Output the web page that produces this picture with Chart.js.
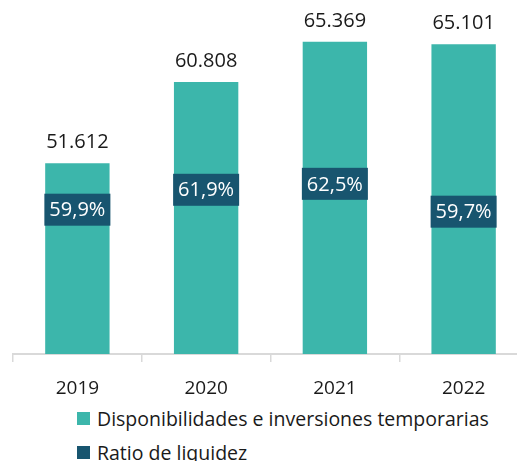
<!DOCTYPE html>
<html>
<head>
<meta charset="utf-8">
<script src="https://cdn.jsdelivr.net/npm/chart.js@4.4.1/dist/chart.umd.min.js"></script>
<style>
  html, body { margin: 0; padding: 0; background: #fff; overflow: hidden; }
  body { width: 517px; height: 461px; position: relative; font-family: 'Open Sans', sans-serif; }
  #wrap { position: absolute; left: 0; top: -40px; width: 540px; height: 440px; }
  #leyenda { position: absolute; left: 77px; top: 401px; color: #1a1a1a; font-size: 19.5px; }
  .item { display: flex; align-items: center; height: 34px; white-space: nowrap; }
  .cuadro { width: 13px; height: 13px; margin-right: 7px; flex: none; }
</style>
</head>
<body>
<div id="wrap"><canvas id="grafico"></canvas></div>
<div id="leyenda"></div>
<script>
// Datos
const anios = ['2019', '2020', '2021', '2022'];
const disponibilidades = [51612, 60808, 65369, 65101];
const ratioLiquidez = [59.9, 61.9, 62.5, 59.7];

const colorTeal = '#3cb6ab';
const colorAzul = '#18556f';

function miles(v) {
    return String(v).replace(/\B(?=(\d{3})+(?!\d))/g, '.');
}

// Etiquetas de valores (barras arriba, ratio en caja)
const etiquetas = {
    id: 'etiquetas',
    afterDatasetsDraw(chart) {
        const ctx = chart.ctx;
        ctx.save();
        ctx.textAlign = 'center';
        ctx.textBaseline = 'middle';

        chart.getDatasetMeta(0).data.forEach((bar, i) => {
            ctx.font = '20px "Open Sans"';
            ctx.fillStyle = '#1a1a1a';
            ctx.fillText(miles(disponibilidades[i]), bar.x, bar.y - 21);
        });

        chart.getDatasetMeta(1).data.forEach((pt, i) => {
            const txt = ratioLiquidez[i].toFixed(1).replace('.', ',') + '%';
            ctx.font = '20px "Open Sans"';
            const w = ctx.measureText(txt).width + 10;
            ctx.fillStyle = colorAzul;
            ctx.fillRect(pt.x - w / 2, pt.y - 16, w, 32);
            ctx.fillStyle = '#ffffff';
            ctx.fillText(txt, pt.x, pt.y + 1);
        });
        ctx.restore();
    }
};

new Chart(document.getElementById('grafico'), {
    type: 'bar',
    data: {
        labels: anios,
        datasets: [{
            label: 'Disponibilidades e inversiones temporarias',
            data: disponibilidades,
            backgroundColor: colorTeal,
            categoryPercentage: 1,
            barPercentage: 0.5,
            yAxisID: 'y',
            order: 2
        }, {
            type: 'line',
            label: 'Ratio de liquidez',
            data: ratioLiquidez,
            showLine: false,
            pointRadius: 0,
            borderColor: colorAzul,
            backgroundColor: colorAzul,
            yAxisID: 'y2',
            order: 1
        }]
    },
    options: {
        responsive: true,
        maintainAspectRatio: false,
        animation: false,
        layout: { padding: { left: 13, right: 12, top: 41, bottom: 0 } },
        plugins: {
            legend: { display: false },
            tooltip: { enabled: false }
        },
        scales: {
            x: {
                grid: {
                    offset: true,
                    drawOnChartArea: false,
                    drawTicks: true,
                    tickLength: 8,
                    color: '#d9d9d9',
                    lineWidth: 1.5
                },
                border: { color: '#d9d9d9', width: 2 },
                ticks: {
                    color: '#1a1a1a',
                    font: { family: 'Open Sans', size: 19 },
                    padding: 15
                },
                afterFit(scale) { scale.height = 46; }
            },
            y: {
                display: false,
                min: 30000,
                max: 70000
            },
            y2: {
                display: false,
                min: 45.4,
                max: 80.87
            }
        }
    },
    plugins: [etiquetas]
});

// Leyenda
const leyenda = document.getElementById('leyenda');
[['Disponibilidades e inversiones temporarias', colorTeal], ['Ratio de liquidez', colorAzul]].forEach(([txt, col]) => {
    leyenda.innerHTML += `<div class="item"><span class="cuadro" style="background:${col}"></span>${txt}</div>`;
});
</script>
</body>
</html>
